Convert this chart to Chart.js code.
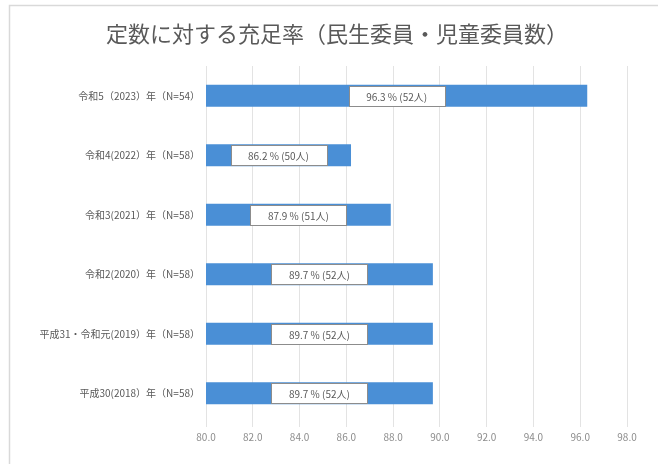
<!DOCTYPE html>
<html lang="ja">
<head>
<meta charset="utf-8">
<title>定数に対する充足率</title>
<script src="https://cdn.jsdelivr.net/npm/chart.js@4"></script>
<style>
  html, body { margin: 0; padding: 0; background: #fff; }
  #wrap { width: 658px; height: 464px; position: relative; }
</style>
</head>
<body>
<div id="wrap"><canvas id="rateChart" width="658" height="464"></canvas></div>
<script>
// 充足率（%）と委員数（人）
const years = [
  "令和5（2023）年（N=54）",
  "令和4(2022）年（N=58）",
  "令和3(2021）年（N=58）",
  "令和2(2020）年（N=58）",
  "平成31・令和元(2019）年（N=58）",
  "平成30(2018）年（N=58）",
];
const rates = [96.3, 86.2, 87.9, 89.7, 89.7, 89.7];
const persons = [52, 50, 51, 52, 52, 52];
const titleText = "定数に対する充足率（民生委員・児童委員数）";

const FONT = '"Noto Sans CJK JP", "Noto Sans", sans-serif';
const TEXT_GRAY = "#595959";

// 外枠（左・上）とタイトル
const framePlugin = {
  id: "frame",
  beforeDraw(chart) {
    const ctx = chart.ctx;
    ctx.save();
    ctx.fillStyle = "#fff";
    ctx.fillRect(0, 0, chart.width, chart.height);
    ctx.strokeStyle = "#d9d9d9";
    ctx.lineWidth = 1.5;
    ctx.strokeRect(9.5, 5.5, chart.width + 20, chart.height + 20);
    ctx.font = "22px " + FONT;
    ctx.fillStyle = TEXT_GRAY;
    ctx.textAlign = "center";
    ctx.textBaseline = "middle";
    ctx.fillText(titleText, 337, 34);
    ctx.restore();
  },
};

// 棒の中央に白い枠付きラベル
const boxLabelPlugin = {
  id: "boxLabels",
  afterDraw(chart) {
    const ctx = chart.ctx;
    const xScale = chart.scales.x;
    const yScale = chart.scales.y;
    const band = yScale.getPixelForValue(1) - yScale.getPixelForValue(0);
    const h = Math.round(band * 0.37) - 2;
    ctx.save();
    ctx.font = "10px " + FONT;
    ctx.textAlign = "center";
    ctx.textBaseline = "middle";
    rates.forEach((v, i) => {
      const text = v.toFixed(1) + " % (" + persons[i] + "人)";
      const left = xScale.getPixelForValue(xScale.min);
      const right = xScale.getPixelForValue(v);
      const cx = (left + right) / 2;
      const cy = yScale.getPixelForValue(i);
      const w = 96;
      const bx = Math.round(cx - w / 2) + 0.5;
      const by = Math.round(cy - h / 2) + 0.5;
      ctx.fillStyle = "#fff";
      ctx.fillRect(bx, by, w, h);
      ctx.strokeStyle = "#8c8c8c";
      ctx.lineWidth = 1;
      ctx.strokeRect(bx, by, w, h);
      ctx.fillStyle = TEXT_GRAY;
      ctx.fillText(text, cx, cy + 1);
    });
    ctx.restore();
  },
};

new Chart(document.getElementById("rateChart"), {
  type: "bar",
  data: {
    labels: years,
    datasets: [
      {
        data: rates,
        backgroundColor: "#4a8fd6",
        barPercentage: 0.37,
        categoryPercentage: 1,
      },
    ],
  },
  options: {
    indexAxis: "y",
    responsive: false,
    animation: false,
    layout: { padding: { left: 20, right: 31, top: 66, bottom: 0 } },
    plugins: {
      legend: { display: false },
      tooltip: { enabled: false },
      title: { display: false },
    },
    scales: {
      x: {
        min: 80,
        max: 98,
        ticks: {
          stepSize: 2,
          color: "#8c8c8c",
          font: { family: FONT, size: 10 },
          padding: 4,
          callback: (v) => Number(v).toFixed(1),
        },
        grid: { color: "#e3e3e3", tickLength: 4, drawTicks: true },
        border: { display: false },
        afterFit(scale) { scale.height = 41; },
      },
      y: {
        ticks: {
          color: TEXT_GRAY,
          font: { family: FONT, size: 10 },
          padding: -2,
        },
        grid: { display: false },
        border: { display: false },
        afterFit(scale) { scale.width = 186; },
      },
    },
  },
  plugins: [framePlugin, boxLabelPlugin],
});
</script>
</body>
</html>
